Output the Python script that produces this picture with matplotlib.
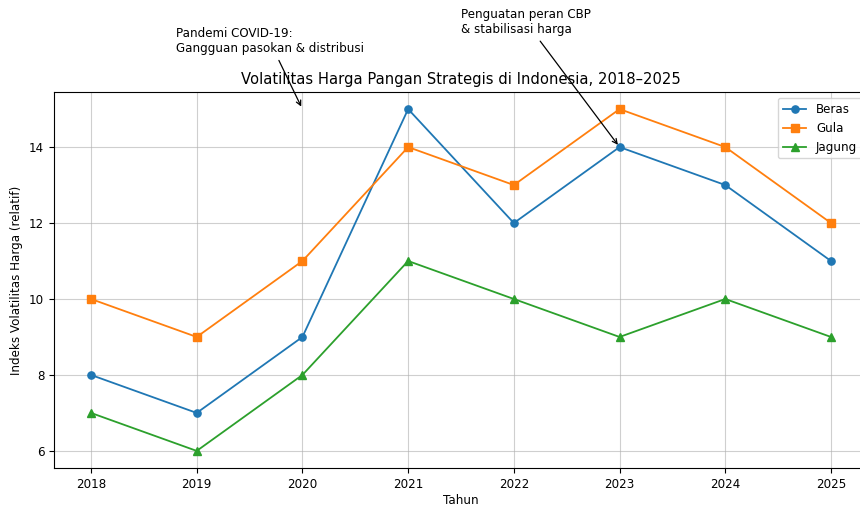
import matplotlib
matplotlib.use("Agg")
import matplotlib.pyplot as plt

years = [2018, 2019, 2020, 2021, 2022, 2023, 2024, 2025]
beras = [8, 7, 9, 15, 12, 14, 13, 11]
gula = [10, 9, 11, 14, 13, 15, 14, 12]
jagung = [7, 6, 8, 11, 10, 9, 10, 9]

fs = 8.6
fig = plt.figure(figsize=(8.6, 5.07), dpi=100)
ax = fig.add_axes([54/860, 39/507, 814/860, 376/507])

lw = 1.3
ms = 5.2
ax.plot(years, beras, marker='o', label='Beras', lw=lw, ms=ms)
ax.plot(years, gula, marker='s', label='Gula', lw=lw, ms=ms)
ax.plot(years, jagung, marker='^', label='Jagung', lw=lw, ms=ms)

ax.set_title('Volatilitas Harga Pangan Strategis di Indonesia, 2018–2025', fontsize=10.6)
ax.set_xlabel('Tahun', fontsize=fs, labelpad=2)
ax.set_ylabel('Indeks Volatilitas Harga (relatif)', fontsize=fs)
ax.set_xticks(years)
ax.tick_params(labelsize=fs)
ax.grid(True, alpha=0.6)
ax.legend(loc='upper right', fontsize=fs)

ax.annotate('Pandemi COVID-19:\nGangguan pasokan & distribusi',
            xy=(2020, 15), xytext=(2018.8, 16.5), textcoords='data',
            fontsize=fs, arrowprops=dict(arrowstyle='->', color='black', lw=0.9),
            annotation_clip=False)
ax.annotate('Penguatan peran CBP\n& stabilisasi harga',
            xy=(2023, 14), xytext=(2021.5, 17), textcoords='data',
            fontsize=fs, arrowprops=dict(arrowstyle='->', color='black', lw=0.9),
            annotation_clip=False)

fig.savefig('out.png', dpi=100)
